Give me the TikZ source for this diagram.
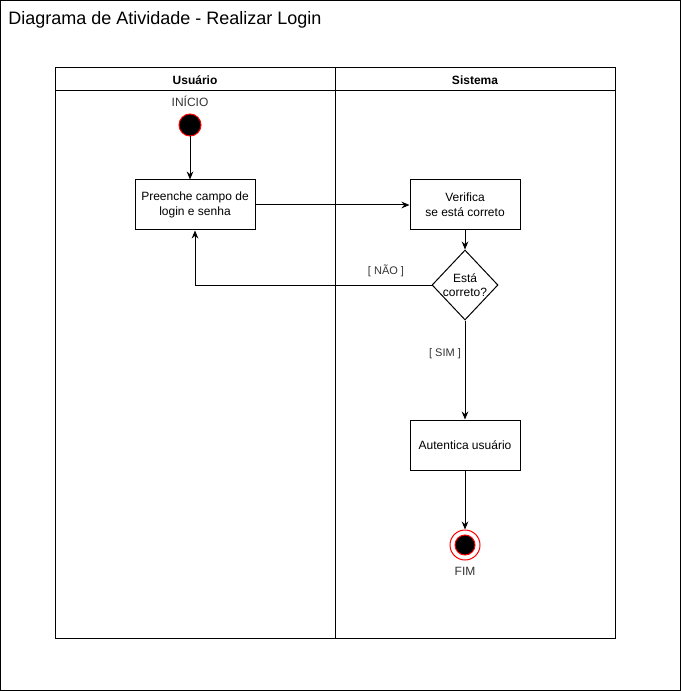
\documentclass[tikz,border=0pt]{standalone}
\usepackage{fontspec}
\setmainfont{Liberation Sans}
\usetikzlibrary{arrows.meta,shapes.geometric}
\tikzset{
  fluxo/.style={-{Stealth[length=6pt,width=5pt]},line width=0.75pt},
  acao/.style={draw,line width=0.75pt,minimum width=82.5pt,minimum height=37.5pt,inner sep=0pt,align=center,font=\fontsize{9}{11}\selectfont},
  decisao/.style={draw,diamond,line width=0.75pt,minimum width=49.5pt,minimum height=52.5pt,inner sep=0pt},
  inicio/.style={circle,draw=red,fill=black,line width=0.75pt,minimum size=16.5pt,inner sep=0pt},
  fimext/.style={circle,draw=red,line width=0.75pt,minimum size=22.5pt,inner sep=0pt},
  rotulo/.style={font=\fontsize{8.25}{10}\selectfont,text=black!80}
}
\begin{document}
\begin{tikzpicture}[x=0.75pt,y=-0.75pt]
    \useasboundingbox (0,0) rectangle (681,691);
    \draw[line width=0.75pt] (0.5,0.5) rectangle (680.5,690.5);
    \node[anchor=west,inner sep=0pt,font=\fontsize{13.5}{16}\selectfont](titulo) at (8,20) {Diagrama de Atividade - Realizar Login};
    % raias
    \draw[line width=0.75pt] (55,68) rectangle (615,638);
    \draw[line width=0.75pt] (55,91)--(615,91);
    \draw[line width=0.75pt] (335,68)--(335,638);
    \node[font=\bfseries\fontsize{9}{11}\selectfont](usuario) at (195,80) {Usuário};
    \node[font=\bfseries\fontsize{9}{11}\selectfont](sistema) at (475,80) {Sistema};
    % nos
    \node[inicio](ini) at (190,125) {};
    \node[rotulo,font=\fontsize{9}{11}\selectfont](txtini) at (190,101) {INÍCIO};
    \node[acao,minimum width=90pt](preenche) at (195,205) {Preenche campo de\\login e senha};
    \node[acao](verifica) at (465,205) {Verifica\\se está correto};
    \node[decisao](dec) at (465,285) {};
    \node[align=center,font=\fontsize{9}{11}\selectfont](txtdec) at (dec) {Está\\correto?};
    \node[acao](autentica) at (465,445) {Autentica usuário};
    \node[fimext](fim) at (465,545) {};
    \node[inicio,minimum size=15pt](fimint) at (fim) {};
    \node[rotulo,font=\fontsize{9}{11}\selectfont](txtfim) at (465,571) {FIM};
    % fluxos
    \draw[fluxo] (ini)--(ini |- preenche.north);
    \draw[fluxo] (preenche)--(verifica);
    \draw[fluxo] (verifica)--(dec);
    \draw[fluxo] (dec.west)-|(preenche.south);
    \draw[fluxo] (dec.south)--(autentica);
    \draw[fluxo] (autentica)--(fim);
    \node[rotulo](nao) at (386,271) {[ NÃO ]};
    \node[rotulo](sim) at (445,354) {[ SIM ]};
\end{tikzpicture}
\end{document}
